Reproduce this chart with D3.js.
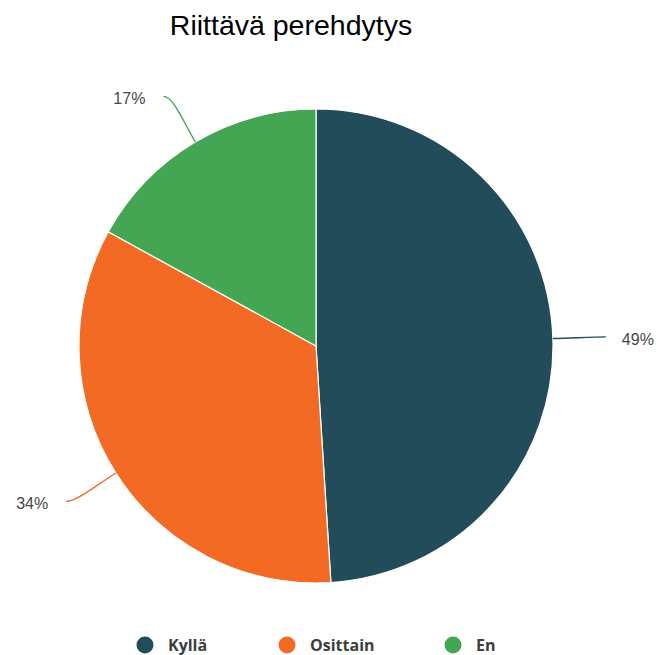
<!DOCTYPE html>
<html>
<head>
<meta charset="utf-8">
<script src="https://cdn.jsdelivr.net/npm/d3@7"></script>
<style>
  html, body { margin: 0; padding: 0; background: #ffffff; }
  svg { display: block; }
</style>
</head>
<body>
<svg id="chart" width="657" height="655"></svg>
<script>
// Survey answers: "Riittävä perehdytys"
const categories = ["Kyllä", "Osittain", "En"];
const shares = [49, 34, 17];
const valueLabels = ["49%", "34%", "17%"];
const sliceColors = ["#224c5a", "#f26a23", "#44a553"];
const titleText = "Riittävä perehdytys";

const svg = d3.select("#chart");
const cx = 316, cy = 346, radius = 237;

svg.append("text")
  .attr("x", 291)
  .attr("y", 35)
  .attr("text-anchor", "middle")
  .style("font-family", "'Liberation Sans', Arial, sans-serif")
  .style("font-size", "28.5px")
  .style("fill", "#000")
  .text(titleText);

const color = d3.scaleOrdinal().domain(categories).range(sliceColors);

const pie = d3.pie().sort(null).value(d => d.value);
const data = categories.map((c, i) => ({ name: c, value: shares[i], label: valueLabels[i] }));
const arcs = pie(data);

const arc = d3.arc().innerRadius(0).outerRadius(radius);

const g = svg.append("g").attr("transform", `translate(${cx},${cy})`);

g.selectAll("path.slice")
  .data(arcs)
  .join("path")
  .attr("class", "slice")
  .attr("d", arc)
  .attr("fill", d => color(d.data.name))
  .attr("stroke", "#ffffff")
  .attr("stroke-width", 1.2);

// connectors and value labels
const labelRadius = 290;
arcs.forEach(d => {
  const a = (d.startAngle + d.endAngle) / 2;
  const sx = Math.sin(a), sy = -Math.cos(a);
  const right = sx > 0;
  const dir = right ? 1 : -1;
  const p0 = [radius * sx, radius * sy];
  const p2 = [labelRadius * sx + (right ? 0 : -5), labelRadius * sy];
  const c1 = [(radius + 25) * sx, (radius + 25) * sy];
  const c2 = [p2[0] - dir * 10, p2[1]];
  const path = d3.path();
  path.moveTo(p0[0], p0[1]);
  path.bezierCurveTo(c1[0], c1[1], c2[0], c2[1], p2[0], p2[1]);
  g.append("path")
    .attr("d", path.toString())
    .attr("fill", "none")
    .attr("stroke", color(d.data.name))
    .attr("stroke-width", 1.4);
  g.append("text")
    .attr("x", p2[0] + (right ? 16 : -18))
    .attr("y", p2[1] + 2)
    .attr("dy", "0.35em")
    .attr("text-anchor", right ? "start" : "end")
    .style("font-family", "'Liberation Sans', Arial, sans-serif")
    .style("font-size", "16px")
    .style("fill", "#474747")
    .text(d.data.label);
});

// legend
const legendX = [145, 287, 453];
const legend = svg.append("g");
categories.forEach((c, i) => {
  legend.append("circle")
    .attr("cx", legendX[i])
    .attr("cy", 645)
    .attr("r", 8.5)
    .attr("fill", color(c));
  legend.append("text")
    .attr("x", legendX[i] + 23)
    .attr("y", 645)
    .attr("dy", "0.35em")
    .style("font-family", "'Open Sans', sans-serif")
    .style("font-weight", "700")
    .style("font-size", "16px")
    .style("fill", "#3d3d3d")
    .text(c);
});
</script>
</body>
</html>
